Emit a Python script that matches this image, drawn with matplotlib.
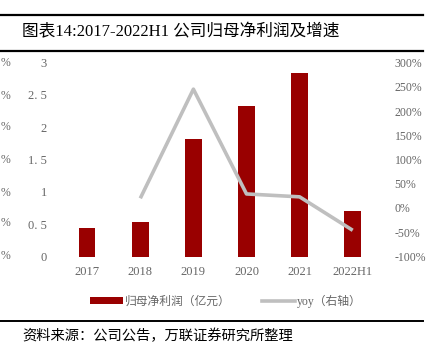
import matplotlib
matplotlib.use("Agg")
import matplotlib.pyplot as plt
from matplotlib.patches import Patch
from matplotlib.lines import Line2D

plt.rcParams['font.family'] = ['Liberation Serif', 'Noto Sans CJK SC', 'DejaVu Sans']

categories = ['2017', '2018', '2019', '2020', '2021', '2022H1']
profit = [0.445, 0.53, 1.81, 2.32, 2.83, 0.70]
yoy_cats = ['2018', '2019', '2020', '2021', '2022H1']
yoy = [20, 245, 29, 23, -46]
left_ticks = [0, 0.5, 1, 1.5, 2, 2.5, 3]
left_labels = ['0', '0. 5', '1', '1. 5', '2', '2. 5', '3']
right_ticks = [-100, -50, 0, 50, 100, 150, 200, 250, 300]
right_labels = ['-100%', '-50%', '0%', '50%', '100%', '150%', '200%', '250%', '300%']

W, H = 436, 358
fig = plt.figure(figsize=(W / 100, H / 100), dpi=100)
fig.patch.set_facecolor('white')

def fx(px):
    return px / W

def fy(py):
    return 1 - py / H

gray = '#666666'
ax = fig.add_axes([fx(60.65), fy(256.5), (379.25 - 60.65) / W, 194 / H])
x = list(range(len(categories)))
ax.bar(x, profit, width=0.31, color='#990000', zorder=2)
ax.set_xlim(-0.5, len(categories) - 0.5)
ax.set_ylim(0, 3)
ax.set_yticks(left_ticks)
ax.set_yticklabels(left_labels)
ax.set_xticks(x)
ax.set_xticklabels(categories)
for s in ax.spines.values():
    s.set_visible(False)
ax.tick_params(axis='both', length=0, colors=gray, labelsize=9)
ax.tick_params(axis='y', pad=10)
ax.tick_params(axis='x', pad=7)

ax2 = ax.twinx()
xi = [categories.index(c) for c in yoy_cats]
ax2.plot(xi, yoy, color='#BFBFBF', lw=2.6, solid_capstyle='butt', zorder=3)
ax2.set_ylim(-100, 300)
ax2.set_yticks(right_ticks)
ax2.set_yticklabels(right_labels)
for s in ax2.spines.values():
    s.set_visible(False)
ax2.tick_params(axis='y', length=0, colors=gray, labelsize=8.5, pad=11)
ax2.set_zorder(ax.get_zorder() + 1)
ax2.patch.set_visible(False)

# legend
handles = [Patch(facecolor='#990000', edgecolor='none'),
           Line2D([0], [0], color='#BFBFBF', lw=2.6)]
labels = ['归母净利润（亿元）', 'yoy（右轴）']
leg = fig.legend(handles, labels, loc='center left', bbox_to_anchor=(fx(84), fy(301.5)),
                 ncol=2, frameon=False, handlelength=2.8, borderpad=0.0,
                 handleheight=0.55, handletextpad=0.2, columnspacing=2.6,
                 prop={'family': ['Liberation Serif', 'Noto Sans CJK SC'], 'size': 8.5})
for t in leg.get_texts():
    t.set_color(gray)

# title bar and footer lines
fig.add_artist(Line2D([0, fx(423)], [fy(15), fy(15)], color='black', lw=1.6))
fig.add_artist(Line2D([0, fx(423)], [fy(50.5), fy(50.5)], color='black', lw=1.6))
fig.add_artist(Line2D([0, fx(423)], [fy(321), fy(321)], color='black', lw=1.4))
fig.text(fx(22), fy(32), '图表14:2017-2022H1 公司归母净利润及增速', fontsize=12,
         va='center', ha='left', color='black')
fig.text(fx(22), fy(335.5), '资料来源：公司公告，万联证券研究所整理', fontsize=10.3,
         va='center', ha='left', color='black', style='italic')

# edge remnants of the neighbouring chart's axis labels
for py in [63, 96, 127, 160, 193, 223]:
    fig.text(fx(10), fy(py), '%', fontsize=8.5, va='center', ha='right', color=gray)
fig.text(fx(10), fy(256), '%', fontsize=8.5, va='center', ha='right', color=gray)

fig.savefig('out.png', dpi=100)
